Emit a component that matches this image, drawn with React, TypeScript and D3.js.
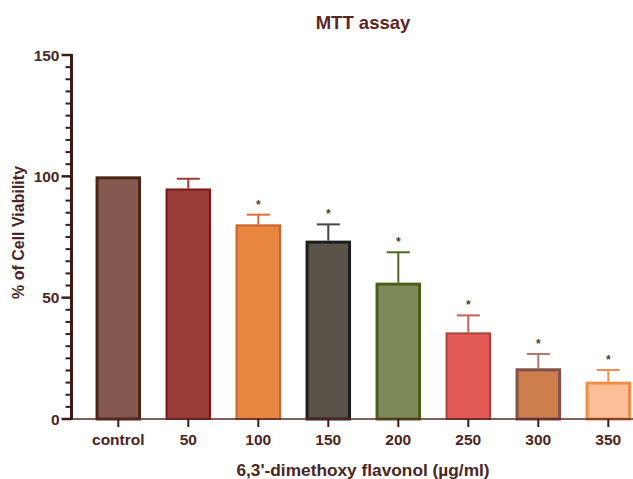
import React from "react";
import * as d3 from "d3";

const categories = ["control", "50", "100", "150", "200", "250", "300", "350"];
const means = [100, 95, 80.2, 73.5, 56.2, 35.7, 20.9, 15.4];
const sds = [0, 4, 4, 6.7, 12.5, 7, 5.9, 4.8];
const significant = [false, false, true, true, true, true, true, true];
const yMajorTicks = [0, 50, 100, 150];
const title = "MTT assay";
const yTitle = "% of Cell Viability";
const xTitle = "6,3'-dimethoxy flavonol (µg/ml)";

const fills = ["#845a50", "#993b38", "#e88640", "#5a5349", "#7f8a5a", "#e15a55", "#cd7e4d", "#fdbf9a"];
const strokes = ["#4a2511", "#7a1a16", "#c8602a", "#1d1d1d", "#4a6018", "#a8413c", "#845048", "#f08d45"];
const strokeWidths = [3, 2, 2, 3, 3, 2, 3, 3];
const errColors = ["#4a2511", "#9b3b38", "#d8703a", "#444444", "#4e6a1f", "#c06060", "#a87a70", "#f09050"];

const W = 633;
const H = 479;
const axisX = 71.5;
const y0 = 419;
const yTop = 55;
const textColor = "#4a2525";
const axisColor = "#3d1a14";
const font = "'Liberation Sans', Arial, Helvetica, sans-serif";

export default function App() {
  const y = d3.scaleLinear().domain([0, 150]).range([y0, yTop]);
  const x = d3
    .scaleBand<string>()
    .domain(categories)
    .range([83.3, 643.3])
    .paddingInner(0.35)
    .paddingOuter(0.175);
  const bw = x.bandwidth();
  const minorTicks = d3.range(0, 151, 5).filter((v) => !yMajorTicks.includes(v));

  return (
    <svg
      width={W}
      height={H}
      style={{ position: "absolute", left: 0, top: 0, background: "#fff" }}
      fontFamily={font}
    >
      <text x={363} y={28.5} textAnchor="middle" fontSize={18.5} fontWeight="bold" fill="#5a2525">
        {title}
      </text>

      {/* bars */}
      {categories.map((c, i) => {
        const sw = strokeWidths[i];
        const x0 = x(c)!;
        const top = y(means[i]);
        return (
          <rect
            key={"bar" + c}
            x={x0 + sw / 2}
            y={top + sw / 2}
            width={bw - sw}
            height={y0 - top - sw / 2}
            fill={fills[i]}
            stroke={strokes[i]}
            strokeWidth={sw}
          />
        );
      })}

      {/* error bars */}
      {categories.map((c, i) => {
        if (sds[i] <= 0) return null;
        const cx = x(c)! + bw / 2;
        const top = y(means[i]);
        const et = y(means[i] + sds[i]);
        return (
          <g key={"err" + c} stroke={errColors[i]} strokeWidth={2}>
            <line x1={cx} x2={cx} y1={top} y2={et} />
            <line x1={cx - 11.5} x2={cx + 11.5} y1={et} y2={et} />
          </g>
        );
      })}

      {/* significance stars */}
      {categories.map((c, i) => {
        if (!significant[i]) return null;
        const cx = x(c)! + bw / 2;
        const et = y(means[i] + sds[i]);
        return (
          <text key={"star" + c} x={cx} y={et - 13 + 7} textAnchor="middle" fontSize={12} fontWeight="bold" fill="#444">
            *
          </text>
        );
      })}

      {/* x axis */}
      <line x1={axisX} x2={W} y1={y0} y2={y0} stroke="#5a2a2a" strokeWidth={1.6} />
      {categories.map((c) => {
        const cx = x(c)! + bw / 2;
        return (
          <g key={"xt" + c}>
            <line x1={cx} x2={cx} y1={y0} y2={427} stroke={axisColor} strokeWidth={2} />
            <text x={cx} y={445} textAnchor="middle" fontSize={15.5} fontWeight="bold" fill={textColor}>
              {c}
            </text>
          </g>
        );
      })}

      {/* y axis */}
      <line x1={axisX} x2={axisX} y1={yTop - 1} y2={y0 + 1} stroke={axisColor} strokeWidth={3} />
      {minorTicks.map((v) => (
        <line key={"mt" + v} x1={axisX - 6} x2={axisX} y1={y(v)} y2={y(v)} stroke={axisColor} strokeWidth={2} />
      ))}
      {yMajorTicks.map((v) => (
        <g key={"yt" + v}>
          <line x1={axisX - 10} x2={axisX} y1={y(v)} y2={y(v)} stroke={axisColor} strokeWidth={2.5} />
          <text x={59.5} y={y(v)} dy="0.36em" textAnchor="end" fontSize={15.5} fontWeight="bold" fill={textColor}>
            {v}
          </text>
        </g>
      ))}

      <text
        transform={`translate(23.5, 232.5) rotate(-90)`}
        textAnchor="middle"
        fontSize={16}
        fontWeight="bold"
        fill={textColor}
      >
        {yTitle}
      </text>

      <text x={363} y={476} textAnchor="middle" fontSize={17.3} fontWeight="bold" fill={textColor}>
        {xTitle}
      </text>
    </svg>
  );
}
